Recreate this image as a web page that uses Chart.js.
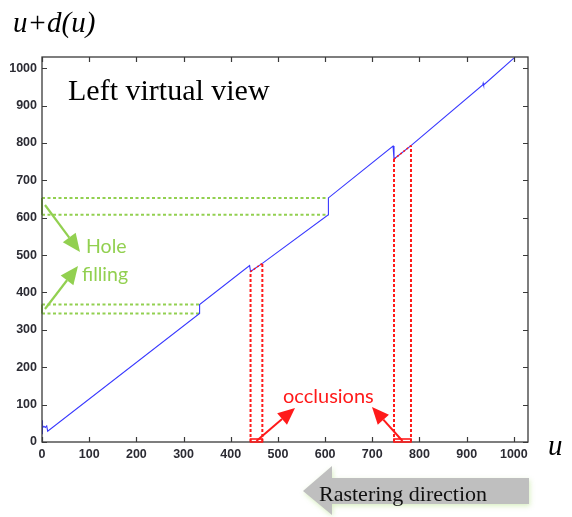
<!DOCTYPE html>
<html><head><meta charset="utf-8">
<script src="https://cdn.jsdelivr.net/npm/chart.js@4.4.1/dist/chart.umd.min.js"></script>
<style>html,body{margin:0;padding:0;background:#fff}#wrap{width:572px;height:517px;position:relative}</style>
</head><body><div id="wrap"><canvas id="c"></canvas></div>
<script>
// ---- data ----
const xTicks = [0,100,200,300,400,500,600,700,800,900,1000];
const yTicks = [0,100,200,300,400,500,600,700,800,900,1000];
const lineU = [0,0,2,4,7,10,12,334,334,440,442,467,607,607,744,746,782,934,935,936,1000];
const lineV = [22,58,38,42,39,43,29,344,368,472,456,478,608,653,792,757,793,955,960,955,1027];
const holeA = {u:[0,334], low:344, high:368};
const holeB = {u:[0,607], low:608, high:653};
const occlA = {u:[442,467], v:[456,478]};
const occlB = {u:[746,782], v:[757,793]};

const GREEN = '#92d050', RED = '#ff1a1a', BLUE = '#3838ff';
const pts = (us, vs) => us.map((u,i)=>({x:u,y:vs[i]}));

function hLine(u0,u1,v){return [{x:u0,y:v},{x:u1,y:v}];}
function vLine(u,v0,v1){return [{x:u,y:v0},{x:u,y:v1}];}

const datasets = [];
datasets.push({data:pts(lineU,lineV), borderColor:BLUE, borderWidth:1.1, pointRadius:0, showLine:true, order:1});
[holeA,holeB].forEach(h=>{
  datasets.push({data:hLine(h.u[0],h.u[1],h.low), borderColor:GREEN, borderWidth:2, borderDash:[3,2.5], pointRadius:0, showLine:true, order:2, clip:false});
  datasets.push({data:hLine(h.u[0],h.u[1],h.high), borderColor:GREEN, borderWidth:2, borderDash:[3,2.5], pointRadius:0, showLine:true, order:2, clip:false});
  datasets.push({data:vLine(h.u[0],h.low,h.high), borderColor:GREEN, borderWidth:2, pointRadius:0, showLine:true, order:2, clip:false});
});
[occlA,occlB].forEach(o=>{
  datasets.push({data:vLine(o.u[0],0,o.v[0]), borderColor:RED, borderWidth:2, borderDash:[3,2], pointRadius:0, showLine:true, order:0, clip:false});
  datasets.push({data:vLine(o.u[1],0,o.v[1]), borderColor:RED, borderWidth:2, borderDash:[3,2], pointRadius:0, showLine:true, order:0, clip:false});
  datasets.push({data:pts(o.u,o.v), borderColor:RED, borderWidth:1.5, borderDash:[2,2], pointRadius:0, showLine:true, order:0, clip:false});
});

function arrow(ctx,x1,y1,x2,y2,color,w,hl,hw){
  const a=Math.atan2(y2-y1,x2-x1);
  const bx=x2-hl*Math.cos(a), by=y2-hl*Math.sin(a);
  ctx.save();ctx.strokeStyle=color;ctx.fillStyle=color;ctx.lineWidth=w;ctx.lineCap='butt';
  ctx.beginPath();ctx.moveTo(x1,y1);ctx.lineTo(bx,by);ctx.stroke();
  ctx.beginPath();ctx.moveTo(x2,y2);
  ctx.lineTo(bx+hw/2*Math.sin(a),by-hw/2*Math.cos(a));
  ctx.lineTo(bx-hw/2*Math.sin(a),by+hw/2*Math.cos(a));
  ctx.closePath();ctx.fill();ctx.restore();
}

const deco = {
  id:'deco',
  afterDatasetsDraw(chart){
    const ctx=chart.ctx, a=chart.chartArea, xs=chart.scales.x, ys=chart.scales.y;
    ctx.save();
    ctx.strokeStyle='#3a3a3a';ctx.lineWidth=1.3;
    ctx.strokeRect(a.left,a.top,a.right-a.left,a.bottom-a.top);
    ctx.lineWidth=1.2;
    xTicks.forEach(t=>{const p=Math.round(xs.getPixelForValue(t))+0.5;
      ctx.beginPath();ctx.moveTo(p,a.bottom);ctx.lineTo(p,a.bottom-5);ctx.moveTo(p,a.top);ctx.lineTo(p,a.top+5);ctx.stroke();});
    yTicks.forEach(t=>{const p=Math.round(ys.getPixelForValue(t))+0.5;
      ctx.beginPath();ctx.moveTo(a.left,p);ctx.lineTo(a.left+5,p);ctx.moveTo(a.right,p);ctx.lineTo(a.right-5,p);ctx.stroke();});
    ctx.strokeStyle=RED;ctx.lineWidth=1.6;
    [occlA,occlB].forEach(o=>{const x0=xs.getPixelForValue(o.u[0]),x1=xs.getPixelForValue(o.u[1]);
      ctx.strokeRect(x0,a.bottom-3,x1-x0,3);});
    const y0=ys.getPixelForValue(0);
    arrow(ctx,xs.getPixelForValue((occlA.u[0]+occlA.u[1])/2),y0-1,295,408,RED,2,17,15);
    arrow(ctx,xs.getPixelForValue((occlB.u[0]+occlB.u[1])/2),y0-1,372,407,RED,2,17,15);
    arrow(ctx,45,205,80,252,GREEN,2.2,18,16);
    arrow(ctx,45,309,78,266,GREEN,2.2,18,16);
    ctx.fillStyle=RED;ctx.font='20px Lato';ctx.textBaseline='alphabetic';ctx.textAlign='left';
    ctx.fillText('occlusions',283,403);
    ctx.fillStyle=GREEN;ctx.font='19.5px Lato';
    ctx.fillText('Hole',86,253);
    ctx.fillText('filling',82,281);
    ctx.fillStyle='#000';ctx.font='30px "Liberation Serif"';
    ctx.fillText('Left virtual view',68,100);
    ctx.restore();
  },
  afterDraw(chart){
    const ctx=chart.ctx;ctx.save();
    ctx.fillStyle='#000';ctx.font='italic 29px "Liberation Serif"';ctx.textBaseline='alphabetic';
    ctx.fillText('u+d(u)',13,32);
    ctx.fillText('u',548,455);
    ctx.shadowColor='rgba(146,208,80,0.35)';ctx.shadowBlur=5;ctx.shadowOffsetX=1;ctx.shadowOffsetY=2;
    ctx.fillStyle='#bfbfbf';
    ctx.beginPath();ctx.moveTo(303,491);ctx.lineTo(332,466);ctx.lineTo(332,478);ctx.lineTo(529,478);
    ctx.lineTo(529,504);ctx.lineTo(332,504);ctx.lineTo(332,515);ctx.closePath();ctx.fill();
    ctx.shadowColor='transparent';
    ctx.fillStyle='#111';ctx.font='22px "Liberation Serif"';
    ctx.fillText('Rastering direction',319,501);
    ctx.restore();
  }
};

const tickFont = {family:'"Liberation Sans", Arial',size:12.5,weight:'bold'};
new Chart(document.getElementById('c'),{
  type:'scatter',
  data:{datasets},
  options:{
    responsive:true,maintainAspectRatio:false,animation:false,
    layout:{padding:{top:57,right:44,left:0,bottom:0}},
    plugins:{legend:{display:false},tooltip:{enabled:false}},
    scales:{
      x:{type:'linear',min:0,max:1030,
        afterBuildTicks:s=>{s.ticks=xTicks.map(v=>({value:v}));},
        afterFit:s=>{s.height=75;},
        grid:{display:false,drawTicks:false},border:{display:false},
        ticks:{padding:5,color:'#2b2b33',font:tickFont,maxRotation:0,autoSkip:false,callback:v=>String(v)}},
      y:{type:'linear',min:0,max:1030,
        afterBuildTicks:s=>{s.ticks=yTicks.map(v=>({value:v}));},
        afterFit:s=>{s.width=42;},
        grid:{display:false,drawTicks:false},border:{display:false},
        ticks:{padding:5,color:'#2b2b33',font:tickFont,autoSkip:false,callback:v=>String(v)}}
    }
  },
  plugins:[deco]
});
</script></body></html>
